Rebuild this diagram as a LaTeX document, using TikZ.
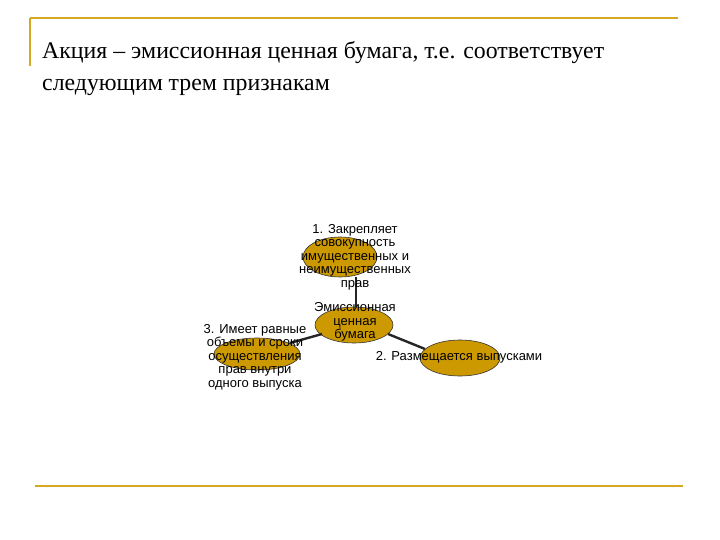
\documentclass[tikz,border=0pt]{standalone}
\usepackage{fontspec}
\setmainfont{Liberation Serif}
\newfontfamily\lab{Liberation Sans}
\definecolor{gold}{HTML}{CC9900}
\definecolor{rule}{HTML}{D4A820}
\begin{document}
\begin{tikzpicture}[x=1pt,y=-1pt,
  ell/.style={draw=black!80,fill=gold,line width=0.6pt},
  lbl/.style={font=\lab\fontsize{13}{13.5}\selectfont,align=center,inner sep=0pt},
  conn/.style={line width=2.4pt,black!85}]
\useasboundingbox (0,0) rectangle (720,540);
\draw[rule,line width=1.5pt] (30,18) -- (678,18);
\draw[rule,line width=1.5pt] (30,18) -- (30,66);
\draw[rule,line width=1.5pt] (35,486) -- (683,486);
\node[anchor=west,align=left,inner sep=0pt,font=\fontsize{23.8}{32}\selectfont] (title) at (42,69)
 {Акция – эмиссионная ценная бумага, т.е. соответствует\\следующим трем признакам};
\draw[ell] (340,257) ellipse (37 and 20);
\draw[ell] (354,325) ellipse (39 and 18);
\draw[ell] (257,354) ellipse (43 and 16);
\draw[ell] (460,358) ellipse (40 and 18);
\coordinate (t) at (356,277); \coordinate (c1) at (356,307);
\coordinate (c2) at (322,334); \coordinate (l) at (290,343);
\coordinate (c3) at (388,334); \coordinate (r) at (425,349);
\draw[conn] (t) -- (c1); \draw[conn] (c2) -- (l); \draw[conn] (c3) -- (r);
\node[lbl] (n1) at (355,257) {1. Закрепляет\\совокупность\\имущественных и\\неимущественных\\прав};
\node[lbl] (n0) at (355,322) {Эмиссионная\\ценная\\бумага};
\node[lbl] (n3) at (255,357) {3. Имеет равные\\объемы и сроки\\осуществления\\прав внутри\\одного выпуска};
\node[lbl] (n2) at (459,357) {2. Размещается выпусками};
\end{tikzpicture}
\end{document}
